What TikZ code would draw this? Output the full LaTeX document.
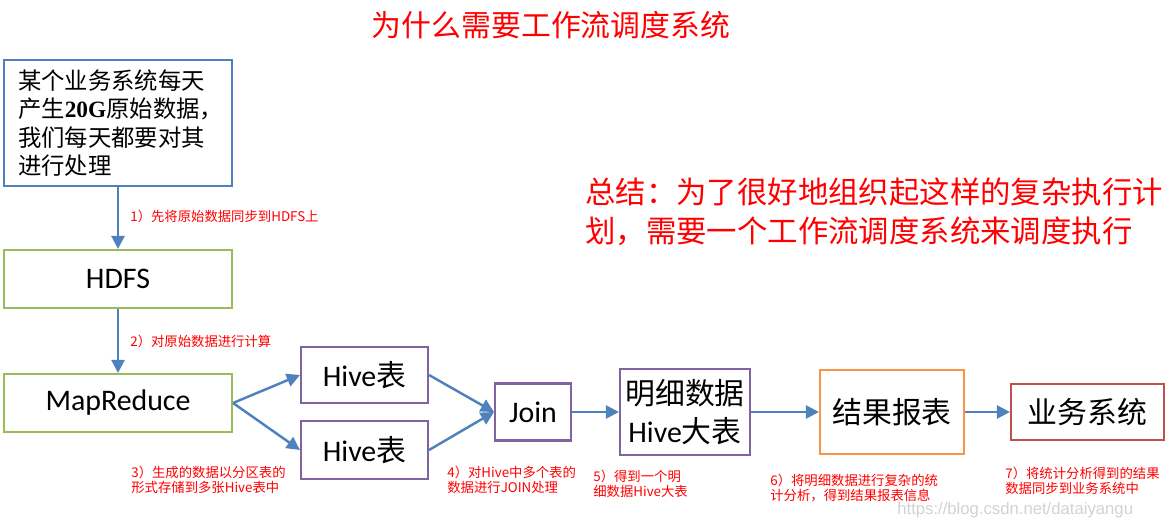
\documentclass[tikz,border=0pt]{standalone}
\usepackage{fontspec}
\setmainfont{Carlito}
\newfontfamily\cjk{Noto Sans CJK SC}
\newfontfamily\tnr{Liberation Serif}
\newfontfamily\arial{Liberation Sans}
\usetikzlibrary{arrows.meta}
\definecolor{flowblue}{HTML}{4F81BD}
\definecolor{hdpgreen}{HTML}{9BBB59}
\definecolor{hivepurple}{HTML}{8064A2}
\definecolor{rptorange}{HTML}{F79646}
\definecolor{bizred}{HTML}{C0504D}

\begin{document}
\begin{tikzpicture}[x=0.02cm,y=-0.02cm,
    box/.style={draw,line width=1.2pt,inner sep=0pt,font=\fontsize{17}{22}\selectfont},
    flow/.style={draw=flowblue,line width=1.4pt,-{Triangle[length=7.5pt,width=7.5pt]}},
    note/.style={text=red,anchor=west,align=left,inner sep=0pt,font=\cjk\fontsize{7.6}{8.5}\selectfont}]
    \useasboundingbox (0,0) rectangle (1170,527);
    % title and summary
    \node[text=red,font=\cjk\fontsize{17}{20}\selectfont] (title) at (551,25) {为什么需要工作流调度系统};
    \node[text=red,anchor=west,align=left,inner sep=0pt,font=\cjk\fontsize{17.3}{22.2}\selectfont] (summary) at (585,212)
        {总结：为了很好地组织起这样的复杂执行计\\划，需要一个工作流调度系统来调度执行};
    % boxes
    \node[box,draw=flowblue,minimum width=4.56cm,minimum height=2.52cm,text width=4.0cm,align=left,
        font=\cjk\fontsize{13.3}{16.2}\selectfont] (src) at (118,123)
        {某个业务系统每天\\产生{\tnr\bfseries 20G}原始数据，\\我们每天都要对其\\进行处理};
    \node[box,draw=hdpgreen,minimum width=4.56cm,minimum height=1.16cm] (hdfs) at (118,279) {HDFS};
    \node[box,draw=hdpgreen,minimum width=4.56cm,minimum height=1.16cm] (mr) at (118,403) {MapReduce};
    \node[box,draw=hivepurple,minimum width=2.54cm,minimum height=1.12cm] (hiveA) at (364.5,375) {Hive{\cjk 表}};
    \node[box,draw=hivepurple,minimum width=2.54cm,minimum height=1.16cm] (hiveB) at (364.5,450) {Hive{\cjk 表}};
    \node[box,draw=hivepurple,minimum width=1.52cm,minimum height=1.14cm] (join) at (533,412) {Join};
    \node[box,draw=hivepurple,minimum width=2.6cm,minimum height=1.72cm,align=center] (wide) at (685,412)
        {{\cjk 明细数据}\\Hive{\cjk 大表}};
    \node[box,draw=rptorange,minimum width=2.88cm,minimum height=1.68cm,font=\cjk\fontsize{17}{22}\selectfont] (report) at (892,412) {结果报表};
    \node[box,draw=bizred,minimum width=3.06cm,minimum height=1.12cm,font=\cjk\fontsize{17}{22}\selectfont] (biz) at (1087.5,412) {业务系统};
    % arrows
    \draw[flow] (src) -- (hdfs);
    \draw[flow] (hdfs) -- (mr);
    \foreach \h in {hiveA,hiveB} {
        \draw[flow] (mr.east) -- (\h.west);
        \draw[flow] (\h.east) -- (join.west);
    }
    \draw[flow] (join) -- (wide);
    \draw[flow] (wide) -- (report);
    \draw[flow] (report) -- (biz);
    % step notes
    \foreach \n/\x/\y/\t in {1/130/216/{1）先将原始数据同步到HDFS上},
                             2/130/341/{2）对原始数据进行计算},
                             3/131/480/{3）生成的数据以分区表的\\形式存储到多张Hive表中},
                             4/447/480/{4）对Hive中多个表的\\数据进行JOIN处理},
                             5/593/484/{5）得到一个明\\细数据Hive大表},
                             6/770/488/{6）将明细数据进行复杂的统\\计分析，得到结果报表信息},
                             7/1005/481/{7）将统计分析得到的结果\\数据同步到业务系统中}} {
        \node[note] (note\n) at (\x,\y) {\t};
    }
    \node[anchor=west,inner sep=0pt,text=gray!35,font=\arial\fontsize{9.5}{11}\selectfont] (mark) at (897,510)
        {https://blog.csdn.net/dataiyangu};
\end{tikzpicture}
\end{document}
